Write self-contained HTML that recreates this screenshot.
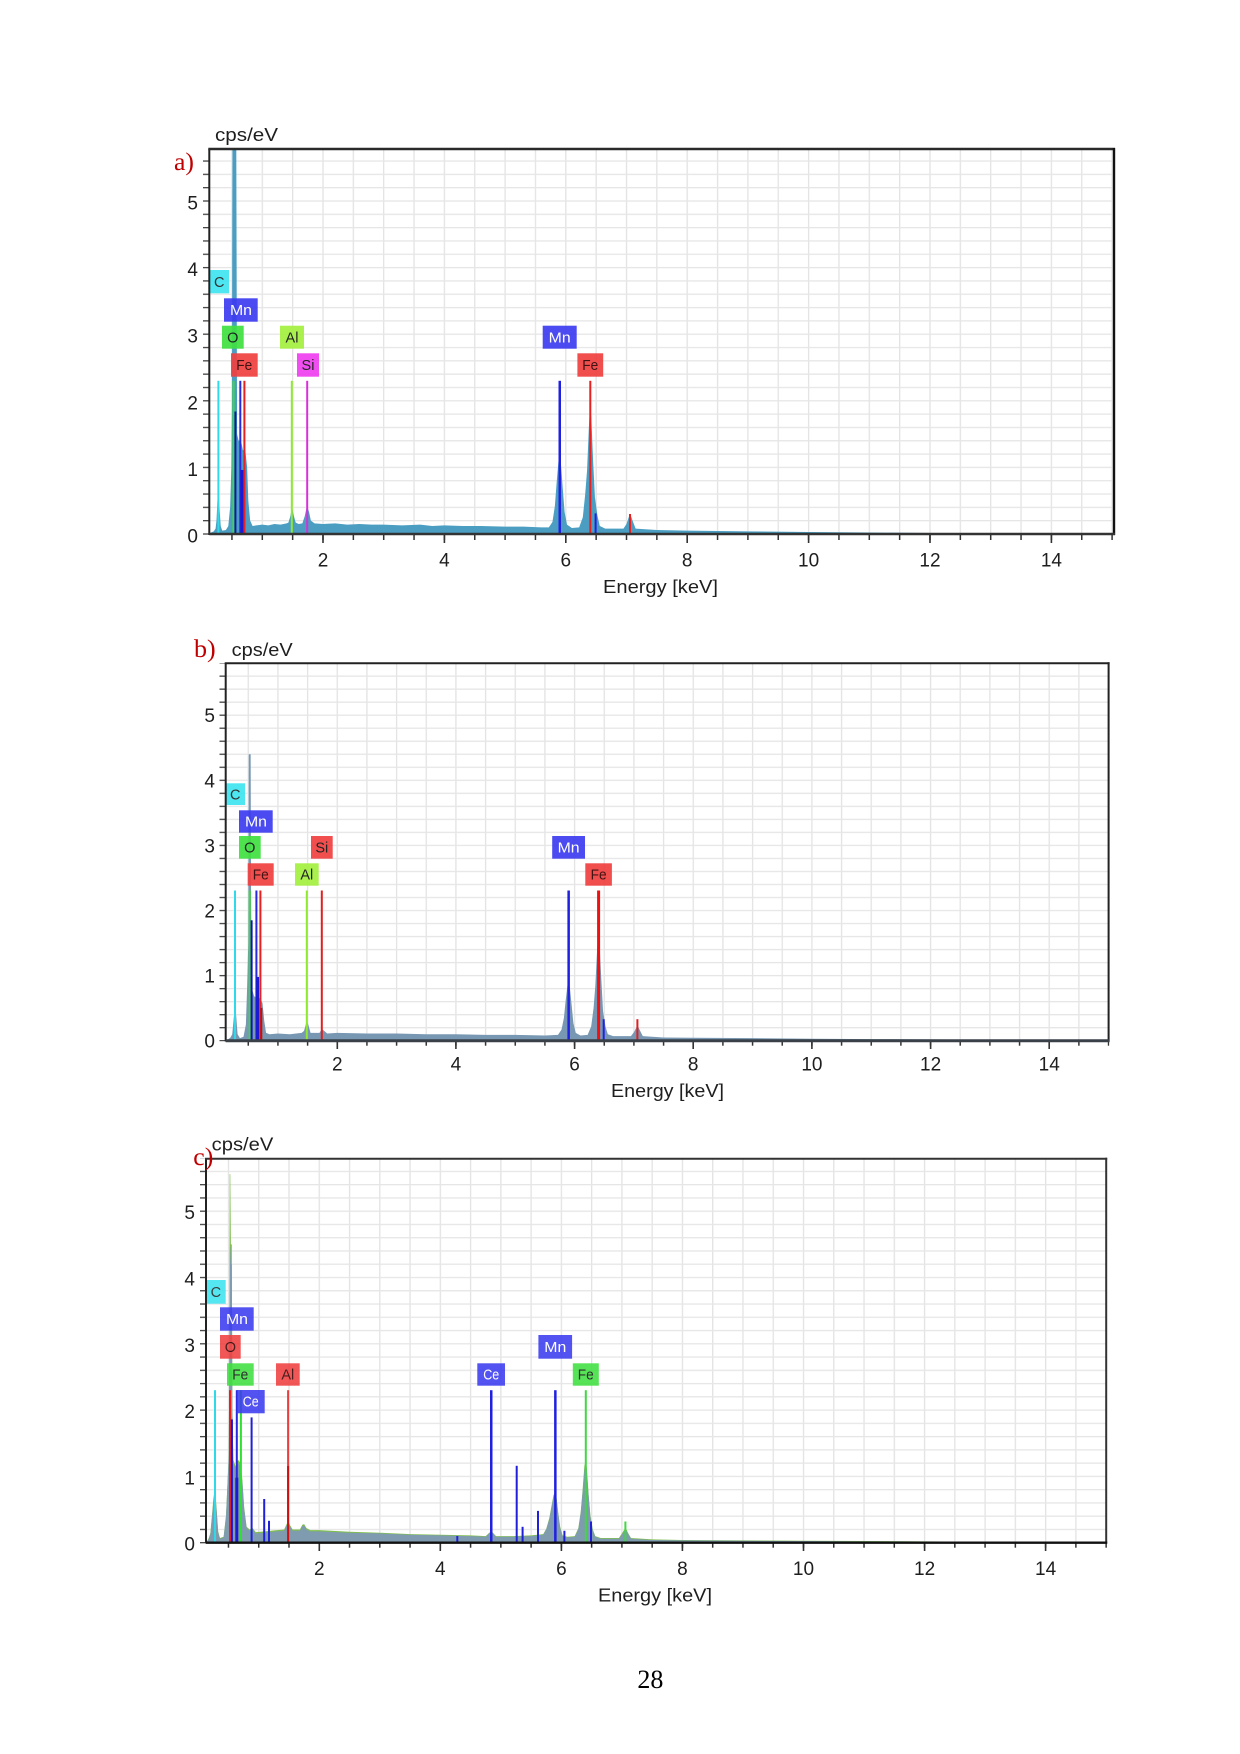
<!DOCTYPE html>
<html><head><meta charset="utf-8"><style>
html,body{margin:0;padding:0;background:#fff;}
svg{display:block;}
text{font-family:"Liberation Sans",Arial,sans-serif;}
.tk{font-size:19px;fill:#1e1e1e;}
.tg{font-size:14.5px;}
.ser{font-family:"Liberation Serif",serif;}
</style></head><body>
<svg width="1240" height="1754" viewBox="0 0 1240 1754" xmlns="http://www.w3.org/2000/svg">
<defs>
<pattern id="gA" patternUnits="userSpaceOnUse" x="200.95" y="533.35" width="30.35" height="13.32">
<rect x="0" y="0" width="1.3" height="13.32" fill="#e3e3e3"/><rect x="0" y="0" width="30.35" height="1.3" fill="#e6e6e6"/></pattern>
<pattern id="gB" patternUnits="userSpaceOnUse" x="217.95" y="1040.05" width="29.665" height="13.02">
<rect x="0" y="0" width="1.3" height="13.02" fill="#e3e3e3"/><rect x="0" y="0" width="29.665" height="1.3" fill="#e6e6e6"/></pattern>
<pattern id="gC" patternUnits="userSpaceOnUse" x="197.55" y="1542.05" width="30.265" height="13.26">
<rect x="0" y="0" width="1.3" height="13.26" fill="#e3e3e3"/><rect x="0" y="0" width="30.265" height="1.3" fill="#e6e6e6"/></pattern>
<pattern id="tyA" patternUnits="userSpaceOnUse" x="203" y="533.35" width="7" height="13.32"><rect x="0" y="0" width="7" height="1.3" fill="#444"/></pattern>
<pattern id="tyB" patternUnits="userSpaceOnUse" x="219.5" y="1040.05" width="7" height="13.02"><rect x="0" y="0" width="7" height="1.3" fill="#444"/></pattern>
<pattern id="tyC" patternUnits="userSpaceOnUse" x="200" y="1542.05" width="7" height="13.26"><rect x="0" y="0" width="7" height="1.3" fill="#444"/></pattern>
<pattern id="txA" patternUnits="userSpaceOnUse" x="200.85" y="534" width="30.35" height="8"><rect x="0" y="0" width="1.5" height="8" fill="#333"/></pattern>
<pattern id="txB" patternUnits="userSpaceOnUse" x="217.85" y="1040" width="29.665" height="8"><rect x="0" y="0" width="1.5" height="8" fill="#333"/></pattern>
<pattern id="txC" patternUnits="userSpaceOnUse" x="197.45" y="1542" width="30.265" height="8"><rect x="0" y="0" width="1.5" height="8" fill="#333"/></pattern>
<clipPath id="cA"><rect x="209.3" y="149" width="904.7" height="385"/></clipPath>
<clipPath id="cB"><rect x="225.7" y="663.3" width="882.9" height="377.4"/></clipPath>
<clipPath id="cC"><rect x="206" y="1158.7" width="900.2" height="384"/></clipPath>
</defs>
<rect width="1240" height="1754" fill="#fff"/>

<!-- ================= PANEL A ================= -->
<rect x="209.3" y="149" width="904.7" height="385" fill="url(#gA)"/>
<rect x="203" y="149" width="6.3" height="386" fill="url(#tyA)"/>
<rect x="209.3" y="534" width="905" height="6" fill="url(#txA)"/>
<g fill="#333"><rect x="322.2" y="534" width="1.6" height="9"/><rect x="443.6" y="534" width="1.6" height="9"/><rect x="565" y="534" width="1.6" height="9"/><rect x="686.4" y="534" width="1.6" height="9"/><rect x="807.8" y="534" width="1.6" height="9"/><rect x="929.2" y="534" width="1.6" height="9"/><rect x="1050.6" y="534" width="1.6" height="9"/></g>
<g clip-path="url(#cA)"><g transform="translate(201.6,534) scale(60.7,-66.6)">
<path fill="#4b9ec2" d="M0.13,0 L0.15,0.02 L0.2,0.04 L0.23,0.08 L0.245,0.2 L0.258,0.45 L0.27,0.66 L0.284,0.6 L0.298,0.35 L0.315,0.12 L0.34,0.05 L0.4,0.06 L0.44,0.12 L0.47,0.4 L0.49,1.0 L0.5,1.9 L0.505,4.7 L0.515,8 L0.565,8 L0.575,4.7 L0.585,1.5 L0.61,1.4 L0.64,1.41 L0.66,1.35 L0.68,1.26 L0.72,1.26 L0.75,1.0 L0.77,0.5 L0.8,0.2 L0.84,0.12 L0.9,0.13 L1.0,0.14 L1.1,0.13 L1.2,0.15 L1.3,0.14 L1.4,0.16 L1.43,0.17 L1.46,0.26 L1.48,0.35 L1.5,0.36 L1.52,0.27 L1.55,0.17 L1.6,0.15 L1.66,0.16 L1.7,0.27 L1.725,0.38 L1.745,0.4 L1.77,0.33 L1.8,0.2 L1.86,0.16 L2.0,0.15 L2.2,0.16 L2.4,0.14 L2.6,0.15 L2.8,0.14 L3.0,0.14 L3.3,0.13 L3.6,0.14 L3.8,0.12 L4.0,0.13 L4.3,0.12 L4.6,0.12 L5.0,0.11 L5.3,0.11 L5.6,0.1 L5.72,0.1 L5.78,0.18 L5.82,0.42 L5.85,0.78 L5.88,1.1 L5.9,1.16 L5.92,1.05 L5.95,0.68 L5.98,0.33 L6.02,0.14 L6.1,0.09 L6.22,0.1 L6.28,0.25 L6.32,0.6 L6.35,0.95 L6.38,1.6 L6.4,1.91 L6.42,1.75 L6.45,1.1 L6.48,0.55 L6.52,0.28 L6.56,0.12 L6.65,0.08 L6.95,0.08 L7.0,0.15 L7.04,0.26 L7.07,0.28 L7.1,0.2 L7.15,0.08 L7.5,0.06 L8,0.05 L9,0.04 L10,0.03 L11,0.022 L12,0.015 L13,0.01 L14,0.006 L15,0.004 L15,0 Z"/>
</g></g>
<g>
<rect x="217.4" y="380.8" width="2" height="153.2" fill="#30d8e8"/>
<rect x="232.5" y="380.8" width="2" height="153.2" fill="#40d840"/>
<rect x="234.4" y="411.5" width="2" height="122.5" fill="#1010b8"/>
<rect x="239.3" y="380.8" width="2" height="153.2" fill="#2828e0"/>
<rect x="240.5" y="470" width="3" height="64" fill="#1a1ad0"/>
<rect x="243.4" y="380.8" width="2" height="153.2" fill="#e82020"/>
<rect x="290.8" y="380.8" width="2" height="153.2" fill="#90e830"/>
<rect x="306.2" y="380.8" width="2" height="153.2" fill="#d830d8"/>
<rect x="558.5" y="380.8" width="2.5" height="153.2" fill="#2020e0"/>
<rect x="594.6" y="513.4" width="2" height="20.6" fill="#2020e0"/>
<rect x="589.3" y="380.8" width="2" height="153.2" fill="#e82020"/>
<rect x="629" y="514" width="2" height="20" fill="#e82020"/>
</g>
<g class="tg" opacity="0.92">
<rect x="209.3" y="270" width="19.7" height="23.3" fill="#3ee4f0"/><text x="219.2" y="287" text-anchor="middle" fill="#222">C</text>
<rect x="224" y="298.3" width="33.7" height="23.4" fill="#3c3cf0"/><text x="241" y="315" text-anchor="middle" fill="#fff" textLength="22" lengthAdjust="spacingAndGlyphs">Mn</text>
<rect x="222" y="325.7" width="21.7" height="23" fill="#40e040"/><text x="232.8" y="342.4" text-anchor="middle" fill="#111">O</text>
<rect x="280" y="325.7" width="24" height="23" fill="#a4f040"/><text x="292" y="342.4" text-anchor="middle" fill="#111">Al</text>
<rect x="231" y="353.3" width="26.7" height="23.4" fill="#f04040"/><text x="244.3" y="370" text-anchor="middle" fill="#300" textLength="16" lengthAdjust="spacingAndGlyphs">Fe</text>
<rect x="297" y="353.3" width="22" height="23.4" fill="#f040f0"/><text x="308" y="370" text-anchor="middle" fill="#111">Si</text>
<rect x="542.7" y="325.7" width="34" height="23" fill="#3c3cf0"/><text x="559.7" y="342.4" text-anchor="middle" fill="#fff" textLength="22" lengthAdjust="spacingAndGlyphs">Mn</text>
<rect x="577.4" y="353.3" width="25.8" height="23.4" fill="#f04040"/><text x="590.3" y="370" text-anchor="middle" fill="#300" textLength="16" lengthAdjust="spacingAndGlyphs">Fe</text>
</g>
<line x1="209.3" y1="149" x2="209.3" y2="535" stroke="#222" stroke-width="2"/>
<line x1="208.3" y1="149" x2="1115" y2="149" stroke="#2a2a2a" stroke-width="2.4"/>
<line x1="1114" y1="148" x2="1114" y2="535" stroke="#111" stroke-width="2.4"/>
<line x1="209.3" y1="534" x2="1115" y2="534" stroke="#333" stroke-width="2.4"/>
<g class="tk" text-anchor="end">
<text x="198" y="542.5">0</text><text x="198" y="475.9">1</text><text x="198" y="409.3">2</text><text x="198" y="342.7">3</text><text x="198" y="276.1">4</text><text x="198" y="209.5">5</text>
</g>
<g class="tk" text-anchor="middle">
<text x="323" y="566.7">2</text><text x="444.4" y="566.7">4</text><text x="565.8" y="566.7">6</text><text x="687.2" y="566.7">8</text><text x="808.6" y="566.7">10</text><text x="930" y="566.7">12</text><text x="1051.4" y="566.7">14</text>
</g>
<text x="603" y="593" font-size="18" fill="#1e1e1e" textLength="115" lengthAdjust="spacingAndGlyphs">Energy [keV]</text>
<text x="215" y="141" font-size="18" fill="#1e1e1e" textLength="63" lengthAdjust="spacingAndGlyphs">cps/eV</text>
<text class="ser" x="174" y="170" font-size="25" fill="#c00000" textLength="20" lengthAdjust="spacingAndGlyphs">a)</text>

<!-- ================= PANEL B ================= -->
<rect x="225.7" y="663.3" width="882.9" height="377.4" fill="url(#gB)"/>
<rect x="219.5" y="663.3" width="6.2" height="378" fill="url(#tyB)"/>
<rect x="225.7" y="1040.7" width="883.5" height="5" fill="url(#txB)"/>
<g fill="#333"><rect x="336.5" y="1040" width="1.6" height="9"/><rect x="455.1" y="1040" width="1.6" height="9"/><rect x="573.8" y="1040" width="1.6" height="9"/><rect x="692.4" y="1040" width="1.6" height="9"/><rect x="811.1" y="1040" width="1.6" height="9"/><rect x="929.8" y="1040" width="1.6" height="9"/><rect x="1048.4" y="1040" width="1.6" height="9"/></g>
<g clip-path="url(#cB)"><g transform="translate(218.6,1040.7) scale(59.33,-65.1)">
<path fill="#7797b2" d="M0.13,0 L0.2,0.05 L0.23,0.1 L0.255,0.35 L0.275,0.52 L0.295,0.4 L0.32,0.1 L0.36,0.04 L0.42,0.06 L0.46,0.25 L0.48,0.8 L0.5,1.5 L0.508,4.4 L0.54,4.4 L0.548,2.0 L0.56,0.8 L0.6,0.68 L0.65,0.66 L0.7,0.65 L0.74,0.58 L0.77,0.3 L0.8,0.12 L0.86,0.1 L1.0,0.11 L1.2,0.1 L1.4,0.12 L1.44,0.15 L1.47,0.25 L1.49,0.3 L1.51,0.25 L1.55,0.12 L1.7,0.12 L1.74,0.18 L1.78,0.15 L1.83,0.11 L2.0,0.12 L2.5,0.11 L3,0.11 L3.5,0.1 L4,0.1 L4.5,0.09 L5,0.09 L5.5,0.08 L5.72,0.09 L5.78,0.17 L5.82,0.35 L5.85,0.62 L5.88,0.85 L5.9,0.9 L5.92,0.82 L5.95,0.55 L5.98,0.27 L6.02,0.12 L6.1,0.08 L6.22,0.09 L6.28,0.22 L6.32,0.5 L6.35,0.85 L6.38,1.4 L6.4,1.62 L6.42,1.5 L6.45,0.95 L6.48,0.45 L6.52,0.22 L6.56,0.1 L6.65,0.07 L6.95,0.07 L7.0,0.13 L7.04,0.2 L7.07,0.22 L7.1,0.16 L7.15,0.07 L7.5,0.05 L8,0.045 L9,0.04 L10,0.03 L11,0.025 L12,0.02 L13,0.015 L14,0.01 L15,0.008 L15,0 Z"/>
</g></g>
<g>
<rect x="234" y="890.5" width="2" height="150.2" fill="#30d8e8"/>
<rect x="248.7" y="890.5" width="2" height="150.2" fill="#40d840"/>
<rect x="250.6" y="920.3" width="2" height="120.4" fill="#1010b8"/>
<rect x="255.4" y="890.5" width="2" height="150.2" fill="#2828e0"/>
<rect x="256.1" y="976.9" width="3" height="63.8" fill="#1a1ad0"/>
<rect x="259.4" y="890.5" width="2" height="150.2" fill="#e82020"/>
<rect x="260.3" y="1008" width="2" height="32.7" fill="#c01010"/>
<rect x="305.8" y="890.5" width="2" height="150.2" fill="#90e830"/>
<rect x="320.8" y="890.5" width="2" height="150.2" fill="#e02020"/>
<rect x="567.4" y="890.5" width="2.5" height="150.2" fill="#2020e0"/>
<rect x="602.7" y="1019.2" width="2" height="21.5" fill="#2020e0"/>
<rect x="597.1" y="890.5" width="3" height="150.2" fill="#f01010"/>
<rect x="636.4" y="1019.2" width="2" height="21.5" fill="#e02020"/>
</g>
<g class="tg" opacity="0.92">
<rect x="225.7" y="783.3" width="19.3" height="21.7" fill="#3ee4f0"/><text x="235.3" y="799.5" text-anchor="middle" fill="#222">C</text>
<rect x="239" y="810.3" width="33.7" height="22.4" fill="#3c3cf0"/><text x="256" y="826.5" text-anchor="middle" fill="#fff" textLength="22" lengthAdjust="spacingAndGlyphs">Mn</text>
<rect x="239" y="836" width="21.7" height="22.7" fill="#40e040"/><text x="249.8" y="852.5" text-anchor="middle" fill="#111">O</text>
<rect x="311" y="836" width="21.7" height="22.7" fill="#f04040"/><text x="321.8" y="852.5" text-anchor="middle" fill="#111">Si</text>
<rect x="247.7" y="863.3" width="26" height="22.4" fill="#f04040"/><text x="260.7" y="879.5" text-anchor="middle" fill="#300" textLength="16" lengthAdjust="spacingAndGlyphs">Fe</text>
<rect x="295" y="863.3" width="23.7" height="22.4" fill="#a4f040"/><text x="306.8" y="879.5" text-anchor="middle" fill="#111">Al</text>
<rect x="552.2" y="836" width="32.8" height="22.7" fill="#3c3cf0"/><text x="568.6" y="852.5" text-anchor="middle" fill="#fff" textLength="22" lengthAdjust="spacingAndGlyphs">Mn</text>
<rect x="585.3" y="863.3" width="26.6" height="22.4" fill="#f04040"/><text x="598.6" y="879.5" text-anchor="middle" fill="#300" textLength="16" lengthAdjust="spacingAndGlyphs">Fe</text>
</g>
<line x1="225.7" y1="663.3" x2="225.7" y2="1041.5" stroke="#222" stroke-width="2"/>
<line x1="224.7" y1="663.3" x2="1109.6" y2="663.3" stroke="#222" stroke-width="2"/>
<line x1="1108.6" y1="662.3" x2="1108.6" y2="1041.5" stroke="#222" stroke-width="2"/>
<line x1="225.7" y1="1040.7" x2="1109.6" y2="1040.7" stroke="#3a4048" stroke-width="3"/>
<g class="tk" text-anchor="end">
<text x="215" y="1047.7">0</text><text x="215" y="982.6">1</text><text x="215" y="917.5">2</text><text x="215" y="852.4">3</text><text x="215" y="787.3">4</text><text x="215" y="722.2">5</text>
</g>
<g class="tk" text-anchor="middle">
<text x="337.3" y="1070.7">2</text><text x="455.9" y="1070.7">4</text><text x="574.6" y="1070.7">6</text><text x="693.2" y="1070.7">8</text><text x="811.9" y="1070.7">10</text><text x="930.6" y="1070.7">12</text><text x="1049.2" y="1070.7">14</text>
</g>
<text x="611" y="1097" font-size="18" fill="#1e1e1e" textLength="113" lengthAdjust="spacingAndGlyphs">Energy [keV]</text>
<text x="231.7" y="656" font-size="18" fill="#1e1e1e" textLength="61" lengthAdjust="spacingAndGlyphs">cps/eV</text>
<text class="ser" x="194" y="657" font-size="25" fill="#c00000" textLength="21.7" lengthAdjust="spacingAndGlyphs">b)</text>

<!-- ================= PANEL C ================= -->
<rect x="206" y="1158.7" width="900.2" height="384" fill="url(#gC)"/>
<rect x="200" y="1158.7" width="6" height="385" fill="url(#tyC)"/>
<rect x="206" y="1542.7" width="901" height="5" fill="url(#txC)"/>
<g fill="#333"><rect x="318.5" y="1542" width="1.6" height="9"/><rect x="439.5" y="1542" width="1.6" height="9"/><rect x="560.6" y="1542" width="1.6" height="9"/><rect x="681.6" y="1542" width="1.6" height="9"/><rect x="802.7" y="1542" width="1.6" height="9"/><rect x="923.8" y="1542" width="1.6" height="9"/><rect x="1044.8" y="1542" width="1.6" height="9"/></g>
<g clip-path="url(#cC)"><g transform="translate(198.2,1542.7) scale(60.53,-66.3)">
<path fill="#7fbf4e" d="M0.13,0 L0.17,0.06 L0.2,0.14 L0.23,0.44 L0.25,0.66 L0.27,0.8 L0.29,0.69 L0.31,0.44 L0.33,0.17 L0.36,0.07 L0.42,0.09 L0.46,0.42 L0.49,1.03 L0.505,1.33 L0.515,3.1 L0.52,5.56 L0.53,5.56 L0.54,4.5 L0.555,4.5 L0.565,2.05 L0.58,1.25 L0.62,1.15 L0.66,1.25 L0.7,1.2 L0.73,0.95 L0.76,0.53 L0.8,0.24 L0.85,0.2 L0.9,0.22 L0.95,0.16 L1.1,0.17 L1.3,0.19 L1.42,0.2 L1.46,0.28 L1.49,0.32 L1.52,0.26 L1.56,0.2 L1.68,0.2 L1.72,0.27 L1.75,0.28 L1.79,0.22 L1.85,0.19 L2,0.19 L2.5,0.165 L3,0.15 L3.5,0.13 L4,0.12 L4.5,0.11 L4.75,0.1 L4.82,0.16 L4.86,0.16 L4.92,0.1 L5.2,0.1 L5.5,0.11 L5.7,0.13 L5.75,0.21 L5.8,0.37 L5.84,0.57 L5.87,0.72 L5.9,0.76 L5.92,0.68 L5.95,0.44 L5.98,0.24 L6.02,0.11 L6.1,0.09 L6.22,0.1 L6.28,0.22 L6.32,0.47 L6.35,0.79 L6.38,1.16 L6.4,1.23 L6.42,1.13 L6.45,0.73 L6.48,0.41 L6.52,0.2 L6.56,0.1 L6.65,0.07 L6.95,0.07 L7.0,0.14 L7.04,0.2 L7.07,0.21 L7.1,0.15 L7.15,0.07 L7.5,0.05 L8,0.04 L9,0.035 L10,0.03 L11,0.025 L12,0.02 L13,0.015 L14,0.012 L15,0.01 L15,0 Z"/>
<path fill="#7e9bb0" d="M0.13,0 L0.17,0.05 L0.2,0.12 L0.23,0.4 L0.25,0.62 L0.27,0.75 L0.29,0.65 L0.31,0.4 L0.33,0.15 L0.36,0.06 L0.42,0.08 L0.46,0.4 L0.49,1.0 L0.505,1.3 L0.515,3.0 L0.522,4.46 L0.53,4.46 L0.54,4.2 L0.555,4.2 L0.565,2.0 L0.58,1.2 L0.62,1.1 L0.66,1.2 L0.7,1.15 L0.73,0.9 L0.76,0.5 L0.8,0.22 L0.85,0.18 L0.9,0.2 L0.95,0.14 L1.1,0.15 L1.3,0.17 L1.42,0.18 L1.46,0.26 L1.49,0.3 L1.52,0.24 L1.56,0.18 L1.68,0.18 L1.72,0.25 L1.75,0.26 L1.79,0.2 L1.85,0.17 L2,0.17 L2.5,0.15 L3,0.14 L3.5,0.12 L4,0.11 L4.5,0.1 L4.75,0.09 L4.82,0.15 L4.86,0.15 L4.92,0.09 L5.2,0.09 L5.5,0.1 L5.7,0.12 L5.75,0.2 L5.8,0.35 L5.84,0.55 L5.87,0.7 L5.9,0.74 L5.92,0.66 L5.95,0.42 L5.98,0.22 L6.02,0.1 L6.1,0.08 L6.22,0.09 L6.28,0.2 L6.32,0.45 L6.35,0.75 L6.38,1.1 L6.4,1.2 L6.42,1.1 L6.45,0.7 L6.48,0.38 L6.52,0.18 L6.56,0.09 L6.65,0.06 L6.95,0.06 L7.0,0.12 L7.04,0.18 L7.07,0.19 L7.1,0.14 L7.15,0.06 L7.5,0.04 L8,0.035 L9,0.03 L10,0.025 L11,0.02 L12,0.018 L13,0.014 L14,0.01 L15,0.008 L15,0 Z"/>
</g></g>
<g>
<rect x="214" y="1390.2" width="2" height="152.5" fill="#30d8e8"/>
<rect x="229" y="1390.2" width="2" height="152.5" fill="#e82020"/>
<rect x="230.9" y="1419.4" width="2" height="123.3" fill="#1818d0"/>
<rect x="235.8" y="1390.2" width="2" height="152.5" fill="#2828e0"/>
<rect x="235.3" y="1477.7" width="3" height="65" fill="#1a1ad0"/>
<rect x="239.9" y="1390.2" width="2" height="152.5" fill="#30e030"/>
<rect x="250.6" y="1417.4" width="2" height="125.3" fill="#2020d8"/>
<rect x="263.2" y="1499" width="2" height="43.7" fill="#2020d8"/>
<rect x="268" y="1520.8" width="2" height="21.9" fill="#2020d8"/>
<rect x="287.1" y="1390.2" width="2" height="152.5" fill="#e84040"/>
<rect x="287.1" y="1466" width="2" height="76.7" fill="#d01010"/>
<rect x="456.3" y="1536" width="2" height="6.7" fill="#2020d8"/>
<rect x="490" y="1390.2" width="2.5" height="152.5" fill="#2020e0"/>
<rect x="515.7" y="1465.8" width="2" height="76.9" fill="#2020d8"/>
<rect x="521.6" y="1526.8" width="2" height="15.9" fill="#2020d8"/>
<rect x="537" y="1510.9" width="2" height="31.8" fill="#2020d8"/>
<rect x="554.1" y="1390.2" width="2.5" height="152.5" fill="#2020e0"/>
<rect x="563.4" y="1530.8" width="2" height="11.9" fill="#2020d8"/>
<rect x="590" y="1521.5" width="2" height="21.2" fill="#2020d8"/>
<rect x="584.8" y="1390.2" width="2" height="152.5" fill="#40d840"/>
<rect x="624.4" y="1521.5" width="2" height="21.2" fill="#40d840"/>
</g>
<g class="tg" opacity="0.88">
<rect x="206" y="1280" width="19.7" height="23.7" fill="#3ee4f0"/><text x="215.9" y="1297" text-anchor="middle" fill="#222">C</text>
<rect x="220" y="1307.3" width="33.7" height="23.4" fill="#3c3cf0"/><text x="237" y="1324" text-anchor="middle" fill="#fff" textLength="22" lengthAdjust="spacingAndGlyphs">Mn</text>
<rect x="220" y="1335" width="20.7" height="23.7" fill="#f04040"/><text x="230.4" y="1352" text-anchor="middle" fill="#300">O</text>
<rect x="227" y="1363.3" width="26.7" height="22.4" fill="#40e040"/><text x="240.3" y="1379.5" text-anchor="middle" fill="#111" textLength="16" lengthAdjust="spacingAndGlyphs">Fe</text>
<rect x="236.7" y="1390" width="28" height="23.3" fill="#3c3cf0"/><text x="250.7" y="1406.7" text-anchor="middle" fill="#fff" textLength="16" lengthAdjust="spacingAndGlyphs">Ce</text>
<rect x="276" y="1363.3" width="23.7" height="22.4" fill="#f04040"/><text x="287.8" y="1379.5" text-anchor="middle" fill="#300">Al</text>
<rect x="477.3" y="1363.3" width="27.7" height="22.4" fill="#3c3cf0"/><text x="491.2" y="1379.5" text-anchor="middle" fill="#fff" textLength="16" lengthAdjust="spacingAndGlyphs">Ce</text>
<rect x="538.4" y="1335" width="33.7" height="23.7" fill="#3c3cf0"/><text x="555.3" y="1352" text-anchor="middle" fill="#fff" textLength="22" lengthAdjust="spacingAndGlyphs">Mn</text>
<rect x="572.8" y="1363.3" width="26" height="22.4" fill="#40e040"/><text x="585.8" y="1379.5" text-anchor="middle" fill="#111" textLength="16" lengthAdjust="spacingAndGlyphs">Fe</text>
</g>
<line x1="206" y1="1158.7" x2="206" y2="1543.5" stroke="#222" stroke-width="2"/>
<line x1="205" y1="1158.7" x2="1107.2" y2="1158.7" stroke="#333" stroke-width="2"/>
<line x1="1106.2" y1="1157.7" x2="1106.2" y2="1543.5" stroke="#333" stroke-width="2"/>
<line x1="206" y1="1542.7" x2="1107.2" y2="1542.7" stroke="#111" stroke-width="2.4"/>
<g class="tk" text-anchor="end">
<text x="195" y="1550.7">0</text><text x="195" y="1484.4">1</text><text x="195" y="1418.1">2</text><text x="195" y="1351.8">3</text><text x="195" y="1285.5">4</text><text x="195" y="1219.2">5</text>
</g>
<g class="tk" text-anchor="middle">
<text x="319.3" y="1575">2</text><text x="440.3" y="1575">4</text><text x="561.4" y="1575">6</text><text x="682.4" y="1575">8</text><text x="803.5" y="1575">10</text><text x="924.6" y="1575">12</text><text x="1045.6" y="1575">14</text>
</g>
<text x="598" y="1601.7" font-size="18" fill="#1e1e1e" textLength="114" lengthAdjust="spacingAndGlyphs">Energy [keV]</text>
<text x="211.7" y="1150.7" font-size="18" fill="#1e1e1e" textLength="61.6" lengthAdjust="spacingAndGlyphs">cps/eV</text>
<text class="ser" x="193.3" y="1165" font-size="25" fill="#c00000" textLength="20" lengthAdjust="spacingAndGlyphs">c)</text>

<!-- page number -->
<text class="ser" x="637.4" y="1688" font-size="26" fill="#000" textLength="26" lengthAdjust="spacingAndGlyphs">28</text>
</svg>
</body></html>
